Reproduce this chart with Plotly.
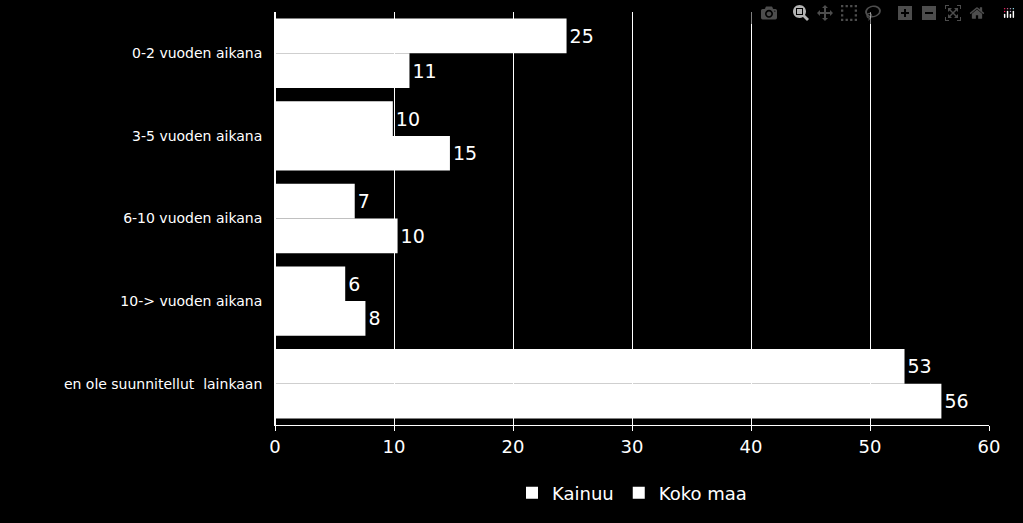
import plotly.graph_objects as go

categories = ["0-2 vuoden aikana", "3-5 vuoden aikana", "6-10 vuoden aikana",
              "10-> vuoden aikana", "en ole suunnitellut  lainkaan"]
kainuu = [24.5, 9.9, 6.7, 5.9, 52.9]
kainuu_labels = ["25", "10", "7", "6", "53"]
koko_maa = [11.3, 14.7, 10.3, 7.6, 56.0]
koko_maa_labels = ["11", "15", "10", "8", "56"]

fig = go.Figure()
for name, vals, labels in [("Kainuu", kainuu, kainuu_labels), ("Koko maa", koko_maa, koko_maa_labels)]:
    fig.add_trace(go.Bar(y=categories, x=vals, name=name, orientation="h",
                         text=labels, textposition="outside", cliponaxis=False,
                         marker=dict(color="white", line=dict(width=0)),
                         textfont=dict(color="white", size=19, family="DejaVu Sans")))

fig.update_layout(
    width=1023, height=523, barmode="group", bargap=0.16, bargroupgap=0,
    paper_bgcolor="black", plot_bgcolor="black",
    margin=dict(l=275, r=34, t=12, b=95),
    font=dict(color="white", family="DejaVu Sans"),
    xaxis=dict(range=[0, 60], dtick=10, showgrid=True, gridcolor="white", gridwidth=1,
               tickfont=dict(size=18), zeroline=True, zerolinecolor="white",
               showline=True, linecolor="white", ticks="outside", tickcolor="white"),
    yaxis=dict(autorange="reversed", tickfont=dict(size=14), showline=True,
               linecolor="white", ticks="", ticksuffix="  "),
    legend=dict(orientation="h", x=0.5, xanchor="center", y=-0.12, yanchor="top",
                font=dict(size=18), traceorder="normal"),
)
fig.write_html("out.html")
with open("out.html", encoding="utf-8") as f:
    html = f.read()
html = html.replace("<body>", '<body style="margin:0;background:black">', 1)
with open("out.html", "w", encoding="utf-8") as f:
    f.write(html)
